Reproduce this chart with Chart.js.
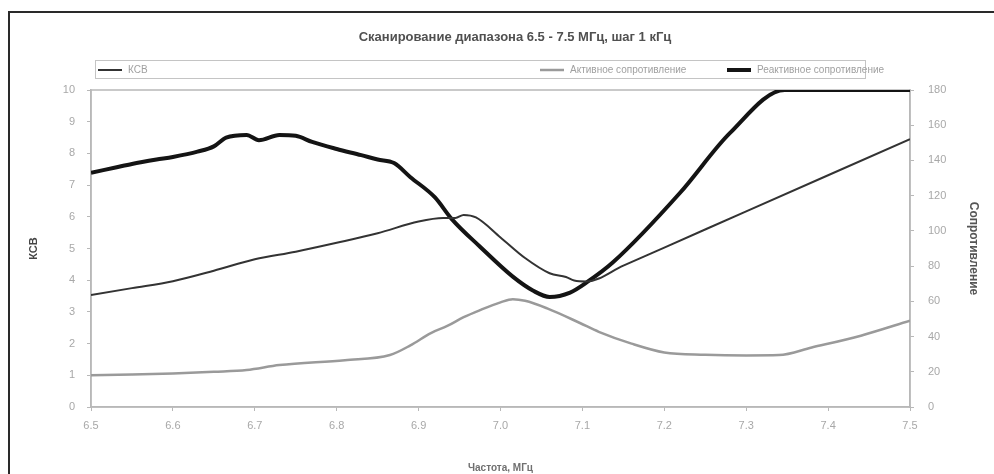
<!DOCTYPE html>
<html>
<head>
<meta charset="utf-8">
<script src="https://cdn.jsdelivr.net/npm/chart.js@4"></script>
<style>
    html, body { margin: 0; padding: 0; background: #fff; }
    #wrap { width: 994px; height: 474px; }
</style>
</head>
<body>
<div id="wrap"><canvas id="swrChart" width="994" height="474"></canvas></div>
<script>
// Частота, МГц (точки для каждой кривой)
const ksvFreq = [6.50, 6.55, 6.60, 6.65, 6.70, 6.75, 6.80, 6.85, 6.90, 6.93, 6.945, 6.955, 6.97, 7.00, 7.03, 7.06, 7.08, 7.09, 7.105, 7.15, 7.20, 7.30, 7.40, 7.50];
const ksvValues = [3.53, 3.75, 3.97, 4.30, 4.66, 4.90, 5.18, 5.48, 5.85, 5.96, 5.96, 6.06, 5.98, 5.35, 4.70, 4.22, 4.10, 3.99, 3.96, 4.46, 5.03, 6.17, 7.31, 8.45];

const activeFreq = [6.50, 6.55, 6.60, 6.65, 6.69, 6.73, 6.81, 6.865, 6.89, 6.915, 6.935, 6.955, 6.975, 7.00, 7.015, 7.03, 7.057, 7.097, 7.12, 7.16, 7.20, 7.25, 7.30, 7.34, 7.38, 7.44, 7.50];
const activeValues = [18, 18.4, 19, 20, 21, 23.8, 26.6, 29.5, 35, 42, 46, 51, 55, 59.4, 61.2, 60.3, 56, 47.7, 42.7, 36, 31, 29.7, 29.3, 29.5, 33.8, 40.5, 49];

const reactFreq = [6.50, 6.53, 6.55, 6.58, 6.60, 6.63, 6.65, 6.665, 6.69, 6.705, 6.73, 6.75, 6.77, 6.80, 6.83, 6.85, 6.87, 6.89, 6.92, 6.94, 6.975, 7.015, 7.04, 7.06, 7.085, 7.106, 7.137, 7.219, 7.28, 7.347, 7.50];
const reactValues = [133, 136, 138, 140.5, 142, 145, 148, 153, 154.5, 151.5, 154.5, 154, 150.5, 146.5, 143, 140.5, 138.5, 130.5, 119, 107, 91, 74, 66, 62.5, 65, 71, 82, 121.5, 155.5, 180, 180];

const xTicks = { min: 6.5, max: 7.5, step: 0.1 };
const ksvTicks = { min: 0, max: 10, step: 1 };
const ohmTicks = { min: 0, max: 180, step: 20 };

function toPoints(xs, ys) {
    return xs.map((x, i) => ({ x: x, y: ys[i] }));
}

const FONT = "'Liberation Sans', Arial, sans-serif";

// Рамка, фон и граница области построения
const framePlugin = {
    id: 'frame',
    beforeDraw(chart) {
        const ctx = chart.ctx;
        ctx.save();
        ctx.fillStyle = '#ffffff';
        ctx.fillRect(0, 0, chart.width, chart.height);
        ctx.strokeStyle = '#2a2a2a';
        ctx.lineWidth = 2;
        ctx.beginPath();
        ctx.moveTo(9, chart.height);
        ctx.lineTo(9, 12);
        ctx.lineTo(chart.width, 12);
        ctx.stroke();
        ctx.restore();
    },
    beforeDatasetsDraw(chart) {
        const a = chart.chartArea;
        const ctx = chart.ctx;
        ctx.save();
        ctx.strokeStyle = '#b8b8b8';
        ctx.lineWidth = 1.5;
        ctx.strokeRect(a.left, a.top, a.right - a.left, a.bottom - a.top);
        ctx.restore();
    },
    afterDraw(chart) {
        const ctx = chart.ctx;
        ctx.save();
        // Заголовок
        ctx.fillStyle = '#505050';
        ctx.font = 'bold 13px ' + FONT;
        ctx.textAlign = 'center';
        ctx.textBaseline = 'middle';
        ctx.fillText('Сканирование диапазона 6.5 - 7.5 МГц, шаг 1 кГц', 515, 37);

        // Легенда
        ctx.strokeStyle = '#c4c4c4';
        ctx.lineWidth = 1;
        ctx.strokeRect(95.5, 60.5, 770, 18);
        const itemX = [98, 540, 727];
        ctx.font = '10px ' + FONT;
        ctx.textAlign = 'left';
        chart.data.datasets.forEach((ds, i) => {
            const x = itemX[i];
            ctx.strokeStyle = ds.borderColor;
            ctx.lineWidth = ds.borderWidth;
            ctx.beginPath();
            ctx.moveTo(x, 70);
            ctx.lineTo(x + 24, 70);
            ctx.stroke();
            ctx.fillStyle = '#a0a0a0';
            ctx.fillText(ds.label, x + 30, 70);
        });
        ctx.restore();
    }
};

new Chart(document.getElementById('swrChart'), {
    type: 'line',
    data: {
        datasets: [{
            label: 'КСВ',
            data: toPoints(ksvFreq, ksvValues),
            borderColor: '#333333',
            borderWidth: 2,
            yAxisID: 'y',
            pointRadius: 0,
            cubicInterpolationMode: 'monotone'
        }, {
            label: 'Активное сопротивление',
            data: toPoints(activeFreq, activeValues),
            borderColor: '#9a9a9a',
            borderWidth: 2.5,
            yAxisID: 'y1',
            pointRadius: 0,
            cubicInterpolationMode: 'monotone'
        }, {
            label: 'Реактивное сопротивление',
            data: toPoints(reactFreq, reactValues),
            borderColor: '#141414',
            borderWidth: 4,
            yAxisID: 'y1',
            pointRadius: 0,
            cubicInterpolationMode: 'monotone'
        }]
    },
    options: {
        responsive: false,
        animation: false,
        layout: { padding: { top: 90, left: 0, right: 0, bottom: 0 } },
        plugins: {
            legend: { display: false },
            title: { display: false },
            tooltip: { enabled: false }
        },
        scales: {
            x: {
                type: 'linear',
                min: xTicks.min,
                max: xTicks.max,
                grid: { display: true, drawOnChartArea: false, color: '#b8b8b8', tickLength: 4 },
                border: { color: '#b8b8b8', width: 1.5 },
                ticks: {
                    stepSize: xTicks.step,
                    color: '#a8a8a8',
                    font: { family: FONT, size: 11 },
                    padding: 8,
                    maxRotation: 0,
                    callback: v => v.toFixed(1)
                },
                title: {
                    display: true,
                    text: 'Частота, МГц',
                    color: '#707070',
                    font: { family: FONT, size: 10, weight: 'bold' },
                    padding: { top: 11, bottom: 0 }
                },
                afterFit(scale) { scale.height = 67; }
            },
            y: {
                position: 'left',
                min: ksvTicks.min,
                max: ksvTicks.max,
                grid: { display: true, drawOnChartArea: false, color: '#b8b8b8', tickLength: 4 },
                border: { color: '#b8b8b8', width: 1.5 },
                ticks: {
                    stepSize: ksvTicks.step,
                    color: '#a8a8a8',
                    font: { family: FONT, size: 11 },
                    padding: 12
                },
                title: {
                    display: true,
                    text: 'КСВ',
                    color: '#444444',
                    font: { family: FONT, size: 11, weight: 'bold' },
                    padding: { top: 27, bottom: 0 }
                },
                afterFit(scale) { scale.width = 91; }
            },
            y1: {
                position: 'right',
                min: ohmTicks.min,
                max: ohmTicks.max,
                grid: { display: true, drawOnChartArea: false, color: '#b8b8b8', tickLength: 4 },
                border: { color: '#b8b8b8', width: 1.5 },
                ticks: {
                    stepSize: ohmTicks.step,
                    color: '#a8a8a8',
                    font: { family: FONT, size: 11 },
                    padding: 14
                },
                title: {
                    display: true,
                    text: 'Сопротивление',
                    color: '#555555',
                    font: { family: FONT, size: 12, weight: 'bold' },
                    padding: { top: 13, bottom: 0 }
                },
                afterFit(scale) { scale.width = 84; }
            }
        }
    },
    plugins: [framePlugin]
});
</script>
</body>
</html>
